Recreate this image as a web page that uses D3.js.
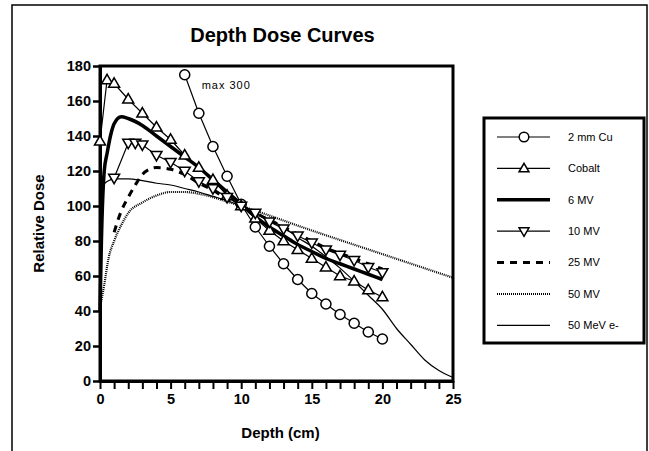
<!DOCTYPE html>
<html>
<head>
<meta charset="utf-8">
<script src="https://cdnjs.cloudflare.com/ajax/libs/d3/7.8.5/d3.min.js"></script>
<style>
  body { margin: 0; background: #fff; }
  svg { display: block; font-family: "Liberation Sans", Arial, sans-serif; }
  .axis path, .axis line { stroke: #000; }
  .axis text { font-weight: bold; font-size: 14.5px; fill: #000; }
</style>
</head>
<body>
<div id="vis"></div>
<script>
// Series data (depth in cm, relative dose)
var cuDepth = [6, 7, 8, 9, 10, 11, 12, 13, 14, 15, 16, 17, 18, 19, 20];
var cuDose = [175, 153, 134, 117, 101, 88, 77, 67, 58, 50, 44, 38, 33, 28, 24];

var cobaltDepth = [0, 0.5, 1, 2, 3, 4, 5, 6, 7, 8, 9, 10, 11, 12, 13, 14, 15, 16, 17, 18, 19, 20];
var cobaltDose = [137, 172, 170, 161, 153, 145, 138, 129, 122, 115, 106, 100, 93, 86, 80, 75, 70, 65, 60, 57, 52, 48];

var mv6Depth = [0, 0.1, 0.3, 0.5, 0.8, 1, 1.5, 2, 3, 4, 5, 6, 7, 8, 9, 10, 11, 12, 13, 14, 15, 16, 17, 18, 19, 20];
var mv6Dose = [40, 80, 120, 130, 142, 147, 151, 150, 146, 140, 134, 128, 122, 115, 108, 101, 94, 88, 83, 78, 74, 70, 67, 64, 61, 58];

var mv10Depth = [1, 2, 2.5, 3, 4, 5, 6, 7, 8, 9, 10, 11, 12, 13, 14, 15, 16, 17, 18, 19, 20];
var mv10Dose = [116, 136, 136, 135, 129, 125, 120, 114, 110, 105, 100, 96, 91, 87, 83, 79, 75, 72, 69, 65, 62];

var mv25Depth = [1, 1.5, 2, 2.5, 3, 3.5, 4, 5, 6, 7, 8, 9, 10, 11, 12, 13, 14, 15, 16, 17, 18, 19, 20];
var mv25Dose = [85, 97, 105, 112, 118, 121, 122, 121, 118, 113, 109, 104, 100, 96, 92, 88, 84, 80, 76, 73, 70, 67, 64];

var mv50Depth = [0, 0.3, 0.6, 1, 1.5, 2, 3, 4, 5, 6, 7, 8, 9, 10, 15, 20, 25];
var mv50Dose = [42, 55, 70, 80, 89, 96, 102, 106, 108, 108, 107, 105, 102.5, 100, 86, 72.5, 59];

var eDepth = [0, 0.5, 1, 2, 3, 4, 5, 6, 7, 8, 9, 10, 11, 12, 13, 14, 15, 16, 17, 18, 19, 20, 21, 22, 23, 24, 25];
var eDose = [110, 114, 115.5, 115.5, 114.5, 113, 112, 110, 108, 105.5, 103, 100, 96, 92, 88, 82, 77, 71, 64.5, 57, 49, 41, 30, 21, 12, 6, 2];

var seriesNames = ['2 mm Cu', 'Cobalt', '6 MV', '10 MV', '25 MV', '50 MV', '50 MeV e-'];
var yTicks = [0, 20, 40, 60, 80, 100, 120, 140, 160, 180];
var xTicks = [0, 5, 10, 15, 20, 25];

var width = 649, height = 451;
var margin = {left: 100, top: 66, right: 196, bottom: 70};
var drawWidth = width - margin.left - margin.right;   // 353
var drawHeight = height - margin.top - margin.bottom; // 315

var svg = d3.select('#vis').append('svg')
    .attr('width', width)
    .attr('height', height);

// outer scan frame
svg.append('path')
    .attr('d', 'M12,451 L12,5 L647,5 L647,451')
    .attr('fill', 'none')
    .attr('stroke', '#000')
    .attr('stroke-width', 1.5);

var xScale = d3.scaleLinear().domain([0, 25]).range([0, drawWidth]);
var yScale = d3.scaleLinear().domain([0, 180]).range([drawHeight, 0]);

var g = svg.append('g')
    .attr('transform', 'translate(' + margin.left + ',' + margin.top + ')');

// title
svg.append('text')
    .attr('x', margin.left + drawWidth / 2 + 6)
    .attr('y', 42)
    .attr('text-anchor', 'middle')
    .style('font-weight', 'bold')
    .style('font-size', '20px')
    .text('Depth Dose Curves');

// axes
var yAxis = d3.axisLeft(yScale).tickValues(yTicks).tickSize(7).tickSizeOuter(0).tickPadding(2);
var yAxisG = g.append('g').attr('class', 'axis').call(yAxis);
yAxisG.select('.domain').attr('stroke-width', 3);
yAxisG.selectAll('.tick line').attr('stroke-width', 2.5);

var xAxis = d3.axisBottom(xScale).ticks(25).tickSize(8).tickSizeOuter(0).tickPadding(5)
    .tickFormat(function(d) { return xTicks.indexOf(d) >= 0 ? d : ''; });
var xAxisG = g.append('g').attr('class', 'axis')
    .attr('transform', 'translate(0,' + drawHeight + ')')
    .call(xAxis);
xAxisG.select('.domain').attr('stroke-width', 3);
xAxisG.selectAll('.tick line').attr('stroke-width', 2);

// frame top/right
g.append('rect')
    .attr('x', 0).attr('y', 0)
    .attr('width', drawWidth).attr('height', drawHeight)
    .attr('fill', 'none').attr('stroke', '#000').attr('stroke-width', 3);

// axis titles
svg.append('text')
    .attr('x', margin.left + drawWidth / 2 + 4)
    .attr('y', 438)
    .attr('text-anchor', 'middle')
    .style('font-weight', 'bold')
    .style('font-size', '15px')
    .text('Depth (cm)');

svg.append('text')
    .attr('transform', 'translate(44,' + (margin.top + drawHeight / 2) + ') rotate(-90)')
    .attr('text-anchor', 'middle')
    .style('font-weight', 'bold')
    .style('font-size', '15px')
    .text('Relative Dose');

// 'max 300' note
g.append('text')
    .attr('x', xScale(7.2))
    .attr('y', yScale(167))
    .style('font-size', '11px')
    .style('letter-spacing', '1px')
    .text('max 300');

var zip = function(xs, ys) {
    return xs.map(function(x, i) { return {x: x, y: ys[i]}; });
};

var line = d3.line()
    .x(function(d) { return xScale(d.x); })
    .y(function(d) { return yScale(d.y); });
var smooth = d3.line()
    .curve(d3.curveMonotoneX)
    .x(function(d) { return xScale(d.x); })
    .y(function(d) { return yScale(d.y); });

var series = [
    {name: seriesNames[0], data: zip(cuDepth, cuDose), width: 1.2, dash: null, marker: 'circle', gen: line},
    {name: seriesNames[1], data: zip(cobaltDepth, cobaltDose), width: 1.2, dash: null, marker: 'up', gen: line},
    {name: seriesNames[2], data: zip(mv6Depth, mv6Dose), width: 3.5, dash: null, marker: null, gen: smooth},
    {name: seriesNames[3], data: zip(mv10Depth, mv10Dose), width: 1.2, dash: null, marker: 'down', gen: line},
    {name: seriesNames[4], data: zip(mv25Depth, mv25Dose), width: 3, dash: '7,6', marker: null, gen: smooth},
    {name: seriesNames[5], data: zip(mv50Depth, mv50Dose), width: 2.2, dash: '1,1', marker: null, gen: smooth},
    {name: seriesNames[6], data: zip(eDepth, eDose), width: 1.2, dash: null, marker: null, gen: smooth}
];

var markerPath = function(type, size) {
    if (type == 'circle') return d3.symbol().type(d3.symbolCircle).size(size * 8)();
    var h = size * 0.95, w = size * 0.55;
    if (type == 'up') return 'M0,' + (-h * 0.6) + 'L' + w + ',' + (h * 0.4) + 'L' + (-w) + ',' + (h * 0.4) + 'Z';
    return 'M0,' + (h * 0.6) + 'L' + w + ',' + (-h * 0.4) + 'L' + (-w) + ',' + (-h * 0.4) + 'Z';
};

// draw lines (reverse so marked series sit on top)
series.slice().reverse().forEach(function(s) {
    g.append('path')
        .datum(s.data)
        .attr('d', s.gen)
        .attr('fill', 'none')
        .attr('stroke', '#000')
        .attr('stroke-width', s.width)
        .attr('stroke-dasharray', s.dash);
});

series.forEach(function(s) {
    if (!s.marker) return;
    g.selectAll('.m-' + s.marker)
        .data(s.data)
        .enter().append('path')
        .attr('class', 'm-' + s.marker)
        .attr('transform', function(d) { return 'translate(' + xScale(d.x) + ',' + yScale(d.y) + ')'; })
        .attr('d', markerPath(s.marker, 10))
        .attr('fill', '#fff')
        .attr('stroke', '#000')
        .attr('stroke-width', 1.5);
});

// legend
var legend = svg.append('g').attr('transform', 'translate(484,118)');
legend.append('rect')
    .attr('width', 160).attr('height', 225)
    .attr('fill', '#fff').attr('stroke', '#000').attr('stroke-width', 3);

var items = legend.selectAll('.item')
    .data(series)
    .enter().append('g')
    .attr('class', 'item')
    .attr('transform', function(d, i) { return 'translate(0,' + (19 + i * 31.4) + ')'; });

items.append('line')
    .attr('x1', 13).attr('x2', 66)
    .attr('stroke', '#000')
    .attr('stroke-width', function(d) { return d.width; })
    .attr('stroke-dasharray', function(d) { return d.dash; });

items.filter(function(d) { return d.marker; })
    .append('path')
    .attr('transform', 'translate(40,0)')
    .attr('d', function(d) { return markerPath(d.marker, 9); })
    .attr('fill', '#fff')
    .attr('stroke', '#000')
    .attr('stroke-width', 1.5);

items.append('text')
    .attr('x', 84)
    .attr('dy', '0.35em')
    .style('font-size', '11px')
    .text(function(d) { return d.name; });
</script>
</body>
</html>
